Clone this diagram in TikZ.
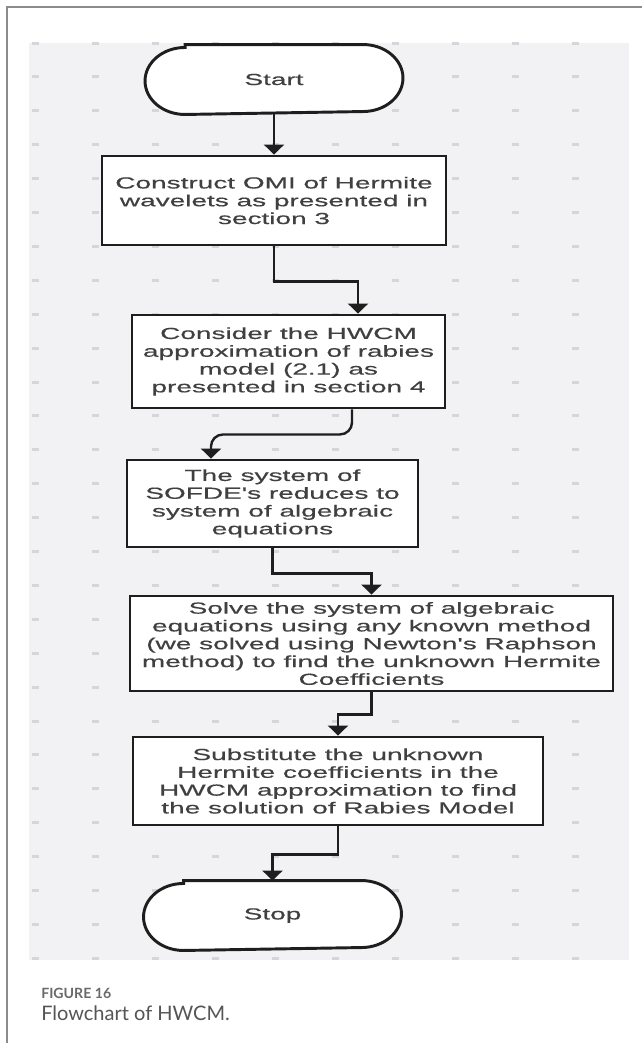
\documentclass[tikz,border=0pt]{standalone}
\usepackage{fontspec}
\setmainfont{Liberation Sans}
\newfontfamily\boxfont[FakeStretch=1.75,FakeBold=0.4]{Liberation Sans}
\newfontfamily\capfont{Lato}
\usetikzlibrary{arrows.meta,calc}
\definecolor{bggray}{HTML}{F2F2F4}
\definecolor{dotc}{HTML}{D6D6D8}
\definecolor{framec}{HTML}{8C8C8C}
\definecolor{inkc}{HTML}{1E1E1E}
\definecolor{txtc}{HTML}{404040}
\definecolor{figc}{HTML}{6A6A6A}
\definecolor{capc}{HTML}{555555}
\newlength{\pxu}\setlength{\pxu}{0.75pt}
\pgfdeclarelayer{bglayer}
\pgfdeclarelayer{midlayer}
\pgfsetlayers{bglayer,midlayer,main}
\tikzset{
  stepbox/.style={draw=inkc, line width=2.2pt, fill=white, inner sep=0pt,
    align=center, text=txtc, font=\boxfont\fontsize{12}{13.35}\selectfont},
  termbox/.style={draw=none, inner sep=0pt, outer sep=1.1pt,
    minimum width=255\pxu, minimum height=67\pxu, text=txtc,
    font=\boxfont\fontsize{12}{13.35}\selectfont},
  termline/.style={draw=inkc, line width=2.2pt, fill=white},
  conn/.style={draw=inkc, line width=1.8pt, -{Triangle[width=15pt,length=7.5pt]}},
}
\newcommand{\termshape}[1]{%
  \draw[termline] ($(#1.north west)+(40,0)$) -- ($(#1.north east)+(-40,0)$)
    arc[start angle=-90,end angle=90,x radius=40,y radius=33.5]
    -- ($(#1.south west)+(40,0)$)
    arc[start angle=90,end angle=270,x radius=40,y radius=33.5] -- cycle;}
\begin{document}
\begin{tikzpicture}[x=0.75pt,y=-0.75pt]
\useasboundingbox (0,0) rectangle (642,1043);
\begin{pgfonlayer}{bglayer}
  \fill[white] (0,0) rectangle (642,1043);
  \fill[bggray] (29,43) rectangle (629,960);
  \foreach \i in {0,...,9}{
    \foreach \j in {0,...,27}{
      \fill[dotc] ({35+60.1*\i-3.5},{43+33.9*\j-1.5}) rectangle ++(7,3);
    }
  }
  \draw[framec, line width=1.4pt] (7,1043) -- (7,7) -- (642,7);
\end{pgfonlayer}

% nodes
\node[termbox] (start) at (274,79.5) {Start};
\node[stepbox, minimum width=344\pxu, minimum height=89\pxu] (b1) at (274,200.5)
  {Construct OMI of Hermite\\wavelets as presented in\\section 3};
\node[stepbox, minimum width=313\pxu, minimum height=93\pxu] (b2) at (288.5,361.5)
  {Consider the HWCM\\approximation of rabies\\model (2.1) as\\presented in section 4};
\node[stepbox, minimum width=291\pxu, minimum height=87\pxu] (b3) at (272.5,503.5)
  {The system of\\SOFDE's reduces to\\system of algebraic\\equations};
\node[stepbox, minimum width=483\pxu, minimum height=95\pxu] (b4) at (371.5,643.5)
  {Solve the system of algebraic\\equations using any known method\\(we solved using Newton's Raphson\\method) to find the unknown Hermite\\Coefficients};
\node[stepbox, minimum width=410\pxu, minimum height=88\pxu] (b5) at (338,781)
  {Substitute the unknown\\Hermite coefficients in the\\HWCM approximation to find\\the solution of Rabies Model};
\node[termbox] (stop) at (272.5,915.5) {Stop};

\begin{pgfonlayer}{midlayer}
  \termshape{start}
  \termshape{stop}
\end{pgfonlayer}

% connectors
\draw[conn] (start.south) -- (start.south |- b1.north);
\draw[conn] (b1.south) -- ++(0,35) -| ($(b2.north)+(69.5,0)$);
\draw[conn, rounded corners=9pt] ($(b2.south)+(63.5,0)$) -- ++(0,25) -| ($(b3.north)+(-61.5,0)$);
\draw[conn] (b3.south) -- ++(0,25) -| (b4.north);
\draw[conn] (b4.south) -- ++(0,22) -| (b5.north);
\draw[conn] (b5.south) -- ++(0,28) -| (stop.north);

% caption
\node[anchor=base west, inner sep=0pt, text=figc, font=\capfont\bfseries\fontsize{10.6}{12}\selectfont] (fig) at (41,998) {FIGURE 16};
\node[anchor=base west, inner sep=0pt, text=capc, font=\capfont\fontsize{15}{17}\selectfont] (capt) at (41,1020) {Flowchart of HWCM.};
\end{tikzpicture}
\end{document}
